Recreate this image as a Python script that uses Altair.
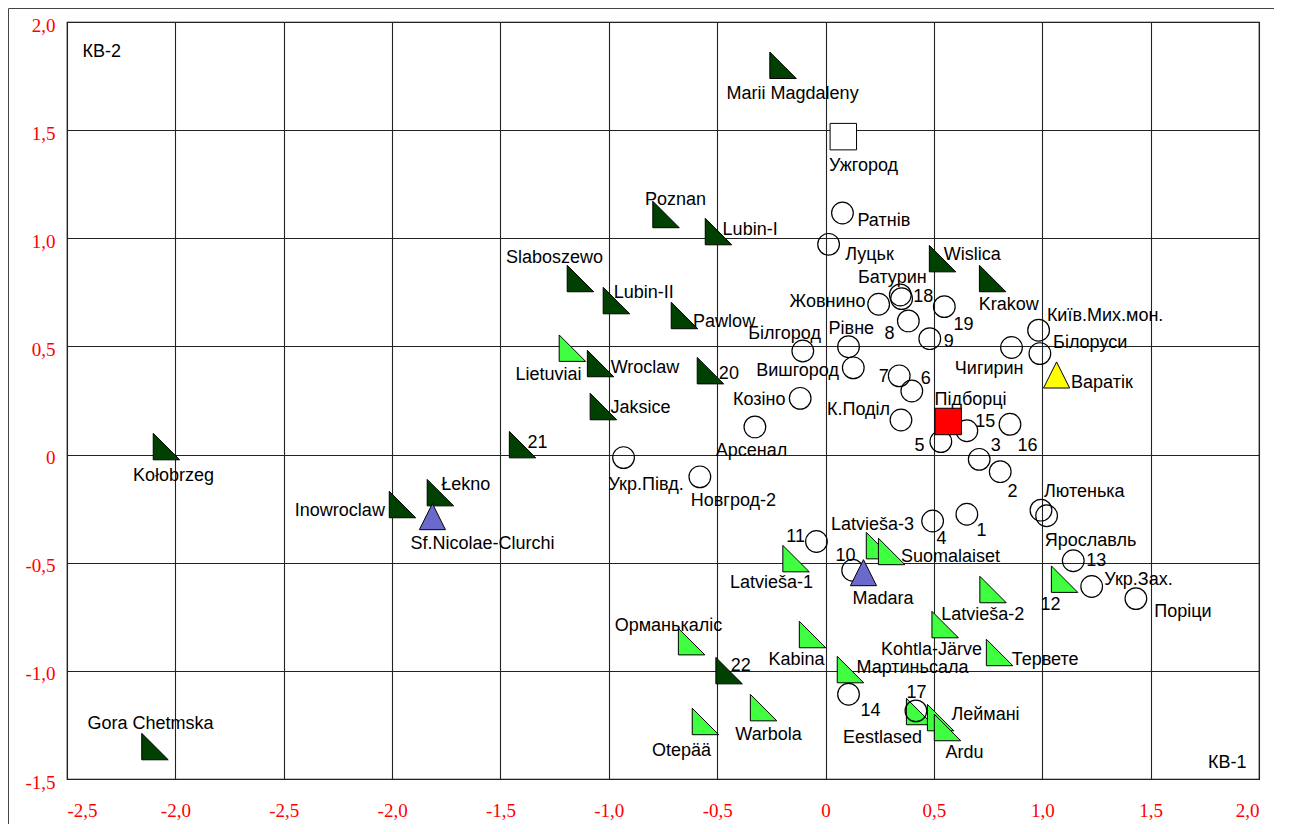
import altair as alt
import pandas as pd

# ---- data ----
names = [
    "Marii Magdaleny", "Poznan", "Lubin-I", "Slaboszewo", "Lubin-II", "Pawlow", "Wroclaw", "20",
    "Jaksice", "21", "Łekno", "Inowroclaw", "Kołobrzeg", "Gora Chetmska", "Wislica", "Krakow", "22",
    "Lietuviai", "Latvieša-1", "Орманькаліс", "Kabina", "Otepää", "Warbola", "Мартиньсала",
    "Latvieša-3", "Suomalaiset", "Latvieša-2", "Kohtla-Järve", "Тервете", "12", "Eestlased",
    "Леймані", "Ardu",
    "Ратнів", "Луцьк", "Батурин", "18", "Жовнино", "19", "8", "9", "Рівне", "Білгород", "Вишгород",
    "7", "6", "Козіно", "К.Поділ", "Арсенал", "5", "15", "16", "3", "2", "4", "1", "Лютенька",
    "Ярославль", "13", "Укр.Зах.", "Поріци", "Чигирин", "Київ.Мих.мон.", "Білоруси", "Укр.Півд.",
    "Новгрод-2", "11", "10", "14", "17",
    "Sf.Nicolae-Clurchi", "Madara", "Варатік", "Підборці", "Ужгород",
]
kinds = (["dark"] * 17 + ["light"] * 16 + ["circle"] * 37
         + ["blue", "blue", "yellow", "red", "white"])
xs = [
    -0.196, -0.736, -0.494, -1.131, -0.965, -0.651, -1.038, -0.531,
    -1.025, -1.398, -1.777, -1.952, -3.041, -3.094, 0.540, 0.771, -0.445,
    -1.168, -0.136, -0.618, -0.060, -0.554, -0.286, 0.115,
    0.249, 0.305, 0.773, 0.552, 0.803, 1.103, 0.434,
    0.531, 0.563,
    0.078, 0.014, 0.345, 0.351, 0.245, 0.548, 0.382, 0.481, 0.106, -0.105, 0.128,
    0.340, 0.398, -0.117, 0.348, -0.326, 0.532, 0.652, 0.851, 0.709, 0.806, 0.494, 0.652, 0.994,
    1.020, 1.143, 1.228, 1.432, 0.858, 0.983, 0.989, -0.932,
    -0.580, -0.042, 0.125, 0.106, 0.417,
    -1.814, 0.175, 1.066, 0.566, 0.082,
]
ys = [
    1.800, 1.110, 1.031, 0.814, 0.712, 0.643, 0.421, 0.388,
    0.222, 0.046, -0.176, -0.231, 0.037, -1.350, 0.906, 0.814, -0.999,
    0.492, -0.481, -0.865, -0.832, -1.234, -1.170, -0.994,
    -0.421, -0.448, -0.624, -0.786, -0.915, -0.576, -1.188,
    -1.216, -1.262,
    1.117, 0.972, 0.738, 0.721, 0.695, 0.684, 0.618, 0.536, 0.499, 0.479, 0.401,
    0.364, 0.294, 0.260, 0.160, 0.128, 0.060, 0.110, 0.140, -0.022, -0.079, -0.307, -0.276, -0.257,
    -0.283, -0.491, -0.610, -0.666, 0.495, 0.575, 0.467, -0.014,
    -0.103, -0.402, -0.535, -1.108, -1.185,
    -0.287, -0.546, 0.368, 0.153, 1.470,
]
# where each label's text is centred (data units)
label_x = [
    -0.152, -0.692, -0.348, -1.251, -0.839, -0.468, -0.833, -0.446,
    -0.854, -1.329, -1.660, -2.241, -3.009, -3.115, 0.677, 0.845, -0.391,
    -1.278, -0.249, -0.725, -0.134, -0.665, -0.263, 0.401,
    0.217, 0.577, 0.725, 0.489, 1.013, 1.038, 0.263,
    0.738, 0.641,
    0.269, 0.203, 0.308, 0.451, 0.009, 0.637, 0.295, 0.568, 0.119, -0.189, -0.129,
    0.268, 0.462, -0.306, 0.152, -0.342, 0.434, 0.737, 0.932, 0.785, 0.863, 0.535, 0.720, 1.194,
    1.223, 1.249, 1.444, 1.649, 0.755, 1.290, 1.221, -0.828,
    -0.425, -0.138, 0.092, 0.208, 0.420,
    -1.583, 0.265, 1.275, 0.669, 0.175,
]
label_y = [
    1.683, 1.193, 1.054, 0.925, 0.763, 0.629, 0.416, 0.388,
    0.227, 0.069, -0.125, -0.245, -0.083, -1.230, 0.938, 0.707, -0.962,
    0.384, -0.581, -0.777, -0.938, -1.355, -1.281, -0.975,
    -0.310, -0.462, -0.726, -0.892, -0.934, -0.680, -1.298,
    -1.188, -1.367,
    1.096, 0.938, 0.832, 0.744, 0.718, 0.615, 0.573, 0.533, 0.596, 0.573, 0.398,
    0.371, 0.361, 0.264, 0.222, 0.032, 0.055, 0.166, 0.055, 0.055, -0.160, -0.378, -0.341, -0.157,
    -0.387, -0.476, -0.565, -0.713, 0.410, 0.656, 0.528, -0.126,
    -0.203, -0.368, -0.453, -1.173, -1.088,
    -0.398, -0.652, 0.347, 0.264, 1.350,
]

x_ticks = [-3.5, -3.0, -2.5, -2.0, -1.5, -1.0, -0.5, 0.0, 0.5, 1.0, 1.5, 2.0]
x_tick_labels = ["-2,5", "-2,0", "-2,5", "-2,0", "-1,5", "-1,0", "-0,5", "0", "0,5", "1,0", "1,5", "2,0"]
y_ticks = [-1.5, -1.0, -0.5, 0.0, 0.5, 1.0, 1.5, 2.0]
y_tick_labels = ["-1,5", "-1,0", "-0,5", "0", "0,5", "1,0", "1,5", "2,0"]

df = pd.DataFrame({"name": names, "kind": kinds, "x": xs, "y": ys, "lx": label_x, "ly": label_y})

W, H = 1192, 757
RT = "M-1,-1L-1,1L1,1Z"
UP = "M0,-1L1,1L-1,1Z"

x_lab_expr = "[" + ",".join("'%s'" % s for s in x_tick_labels) + "][indexof(" + \
    "[" + ",".join(str(v) for v in x_ticks) + "], datum.value)]"
y_lab_expr = "[" + ",".join("'%s'" % s for s in y_tick_labels) + "][indexof(" + \
    "[" + ",".join(str(v) for v in y_ticks) + "], datum.value)]"

xscale = alt.Scale(domain=[x_ticks[0], x_ticks[-1]], nice=False, zero=False)
yscale = alt.Scale(domain=[y_ticks[0], y_ticks[-1]], nice=False, zero=False)

xenc = alt.X("x:Q", scale=xscale, axis=alt.Axis(
    values=x_ticks, labelExpr=x_lab_expr, title="КВ-1", titleX=1179, titleY=-17,
    titleAlign="right", titleBaseline="middle", labelPadding=31, labelBaseline="middle",
))
yenc = alt.Y("y:Q", scale=yscale, axis=alt.Axis(
    values=y_ticks, labelExpr=y_lab_expr, title="КВ-2", titleAngle=0, titleX=15, titleY=29,
    titleAlign="left", titleBaseline="middle", labelPadding=12, labelBaseline="middle",
    labelOffset=3,
))

base = alt.Chart(df)


def tri_layer(kind, shape, fill, size):
    return base.transform_filter(alt.datum.kind == kind).mark_point(
        shape=shape, filled=True, fill=fill, stroke="black", strokeWidth=1,
        size=size, opacity=1,
    ).encode(x=xenc, y=yenc)


dark = tri_layer("dark", RT, "#004000", 700)
light = tri_layer("light", RT, "#40ff40", 700)
circles = base.transform_filter(alt.datum.kind == "circle").mark_point(
    shape="circle", filled=False, stroke="black", strokeWidth=1.2, size=470, opacity=1,
).encode(x=xenc, y=yenc)
blue = tri_layer("blue", UP, "#6a6acd", 680)
yellow = tri_layer("yellow", UP, "#ffff00", 680)
red = tri_layer("red", "square", "#ff0000", 700)
white = tri_layer("white", "square", "#ffffff", 700)

labels = base.mark_text(
    font="Liberation Sans", fontSize=18, color="black", align="center", baseline="middle", dy=3,
).encode(x=alt.X("lx:Q", scale=xscale), y=alt.Y("ly:Q", scale=yscale), text="name:N")

frame_df = pd.DataFrame({"a": [0]})
frame_v = alt.Chart(frame_df).mark_rule(color="#444", strokeWidth=1).encode(
    x=alt.value(-58.5), y=alt.value(-13.5), y2=alt.value(H + 45))
frame_h = alt.Chart(frame_df).mark_rule(color="#444", strokeWidth=1).encode(
    x=alt.value(-58.5), x2=alt.value(W + 15), y=alt.value(-13.5))

chart = alt.layer(
    dark, light, circles, blue, yellow, red, white, labels, frame_v, frame_h
).properties(
    width=W, height=H,
    autosize=alt.AutoSizeParams(type="none"),
    padding={"left": 59, "top": 14, "right": 15, "bottom": 45},
).configure_view(
    stroke="black", strokeWidth=1.2,
).configure_axis(
    grid=True, gridColor="#222222", gridWidth=1.1, gridOpacity=1,
    ticks=False, domain=False,
    labelFont="Liberation Serif", labelFontSize=19, labelColor="#ff0000",
    titleFont="Liberation Sans", titleFontSize=18, titleFontWeight="normal", titleColor="black",
)

chart.save("out.html", embed_options={"renderer": "svg", "actions": False})
